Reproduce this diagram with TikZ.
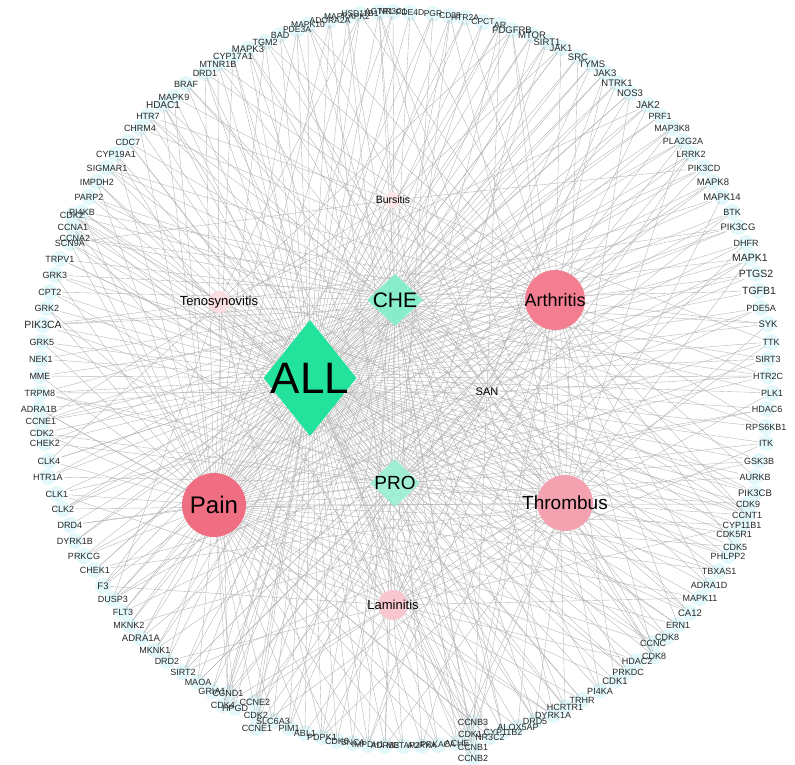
\documentclass[tikz,border=0pt]{standalone}
\usepackage{fontspec}
\setmainfont{Liberation Sans}
\usetikzlibrary{shapes.geometric,backgrounds}
\definecolor{allc}{HTML}{22E29C}
\definecolor{chec}{HTML}{7DEDC6}
\definecolor{proc}{HTML}{98EFD1}
\definecolor{painc}{HTML}{EF6E82}
\definecolor{arthc}{HTML}{F37E91}
\definecolor{thrc}{HTML}{F5A2B0}
\definecolor{lamc}{HTML}{F8C6CF}
\definecolor{tenc}{HTML}{FADCE1}
\definecolor{bursc}{HTML}{FCE6E9}
\definecolor{ringc}{HTML}{E3F8FA}
\definecolor{edgec}{HTML}{B4B4B4}
\tikzset{
  ringlbl/.style={inner sep=1pt, text=black!85},
  hubd/.style={diamond, draw=none, inner sep=0pt},
  dis/.style={circle, draw=none, inner sep=0pt},
  edge/.style={draw=edgec, line width=0.38pt},
  glow/.style={fill=ringc}
}
\begin{document}
\begin{tikzpicture}[x=1pt,y=-1pt]
\useasboundingbox (0,0) rectangle (795,765);
% ring targets
\foreach \lab/\px/\py/\sz [count=\i] in {
MAPK9/174/97/9, BRAF/186/84/9, DRD1/205/73/9, MTNR1B/218/64/9, CYP17A1/233/56/9,
MAPK3/248/49/9.5, TGM2/265/42/9, BAD/280/35/9, PDE3A/297/30/8.5, MAPK10/308/25/8.5,
ADORA2A/330/21/8.5, MAPKAPK2/347/17/8.5, HSD11B1/360/14/8.5, AGTR1/379/12/8.5, NR3C1/393/12/8.5,
PDE4D/410/13/8.5, PGR/433/14/8.5, CD38/450/16/8.5, HTR2A/465/18/8.5, CPCT/483/22/8.5,
AR/500/25/9, PDGFRB/512/30/9.5, MTOR/532/35/9.5, SIRT1/547/42/9.5, JAK1/561/48/9.5,
SRC/578/57/9.5, TYMS/592/64/9.5, JAK3/605/73/9.5, NTRK1/617/83/9.5, NOS3/630/93/9.5,
JAK2/648/105/10, PRF1/660/116/9, MAP3K8/672/128/9, PLA2G2A/683/141/9, LRRK2/691/154/9,
PIK3CD/704/168/9, MAPK8/713/182/9.5, MAPK14/722/197/9.5, BTK/732/212/9, PIK3CG/738/227/9.5,
DHFR/746/243/9, MAPK1/750/258/10.5, PTGS2/756/274/10.5, TGFB1/759/291/10.5, PDE5A/761/308/9,
SYK/768/324/9.5, TTK/771/342/9, SIRT3/768/359/9, HTR2C/768/376/9, PLK1/772/393/9,
HDAC6/767/409/9, RPS6KB1/766/427/9, ITK/766/443/9, GSK3B/759/461/9, AURKB/755/477/9,
PIK3CB/755/493/9.5, CDK9/748/504/9, CCNT1/747/515/9, CYP11B1/742/525/9, CDK5R1/734/534/9,
CDK5/735/547/9, PHLPP2/728/556/9, TBXAS1/719/571/9, ADRA1D/709/585/9, MAPK11/700/598/9,
CA12/690/613/9.5, ERN1/678/625/9, CDK8/667/637/9, CCNC/653/643/9, CDK8/654/656/9,
HDAC2/637/661/9, PRKDC/628/672/9, CDK1/615/681/9.5, PI4KA/600/691/9, TRHR/582/700/9,
HCRTR1/565/707/9, DYRK1A/553/715/9, DRD5/535/721/9, ALOX5AP/518/727/9, CYP11B2/503/732/9,
NR3C2/490/737/9, CDK1/470/734/9, CCNB3/473/722/9, CCNB1/473/747/9, CCNB2/473/758/9,
ACHE/457/743/9, PRKACA/438/745/8.5, AURKA/422/746/8.5, METAP2/403/746/8.5, ADRB3/385/746/8.5,
IMPDH1/368/745/8.5, SNCA/353/743/8.5, CDK6/337/741/9, PDPK1/322/737/9, ABL1/305/733/9,
PIM1/289/728/9, SLC6A3/273/721/9, CCNE1/257/728/9, CDK2/256/715/9, CCNE2/255/702/9,
HPGD/235/708/9, CDK4/223/705/9, CCND1/228/693/9, GRIA1/212/691/9, MAOA/198/682/9,
SIRT2/183/672/9, DRD2/167/661/9, MKNK1/155/650/9, ADRA1A/141/638/9.5, MKNK2/129/625/9,
FLT3/123/612/9, DUSP3/113/599/9, F3/103/586/9.5, CHEK1/95/570/9, PRKCG/84/556/9,
DYRK1B/75/541/9, DRD4/70/525/9, CLK2/63/509/9, CLK1/57/494/9, HTR1A/48/477/9,
CLK4/49/461/9, CHEK2/45/443/9, CDK2/42/433/9, CCNE1/41/421/9, ADRA1B/39/409/9,
TRPM8/40/393/9, MME/40/376/9, NEK1/41/359/9, GRK5/42/342/9, PIK3CA/43/325/10.5,
GRK2/47/308/9, CPT2/50/292/9, GRK3/55/275/9, TRPV1/60/259/9, SCN9A/70/243/9,
CCNA2/75/238/9, CCNA1/73/227/9, CDK2/72/215/9, PI4KB/82/212/9, PARP2/89/197/9,
IMPDH2/97/182/9, SIGMAR1/107/168/9, CYP19A1/116/154/9, CDC7/128/142/9, CHRM4/140/128/9,
HTR7/148/116/9, HDAC1/163/105/10}
{
  \node[ringlbl, font=\fontsize{\sz}{\sz}\selectfont] (t\i) at (\px,\py) {\lab};
  \xdef\ntargets{\i}
}
% hubs
\node[hubd, fill=allc, minimum width=93pt, minimum height=116pt,
  label={[font=\fontsize{44}{44}\selectfont]center:ALL}] (all) at (310,378) {};
\node[hubd, fill=chec, fill opacity=0.9, text opacity=1, minimum width=56pt, minimum height=52pt,
  label={[font=\fontsize{21}{21}\selectfont]center:CHE}] (che) at (395,300) {};
\node[hubd, fill=proc, fill opacity=0.9, text opacity=1, minimum width=50pt, minimum height=48pt,
  label={[font=\fontsize{19}{19}\selectfont]center:PRO}] (pro) at (395,483) {};
\node[inner sep=1pt, font=\fontsize{11}{11}\selectfont] (san) at (487,392) {SAN};
\node[dis, fill=arthc, minimum size=60pt,
  label={[font=\fontsize{18}{18}\selectfont]center:Arthritis}] (arth) at (555,300) {};
\node[dis, fill=painc, minimum size=64pt,
  label={[font=\fontsize{24}{24}\selectfont]center:Pain}] (pain) at (214,505) {};
\node[dis, fill=thrc, minimum size=56pt,
  label={[font=\fontsize{19}{19}\selectfont]center:Thrombus}] (thr) at (565,503) {};
\node[dis, fill=lamc, minimum size=30pt,
  label={[font=\fontsize{13}{13}\selectfont]center:Laminitis}] (lam) at (393,605) {};
\node[dis, fill=tenc, minimum size=22pt,
  label={[font=\fontsize{13}{13}\selectfont]center:Tenosynovitis}] (teno) at (219,302) {};
\node[dis, fill=bursc, minimum size=16pt,
  label={[font=\fontsize{10.5}{10.5}\selectfont]center:Bursitis}] (burs) at (393,200) {};
% edges
\begin{pgfonlayer}{background}
\foreach \i in {1,...,\ntargets} {
  \fill[glow] (t\i.center) circle (8pt);
}
\foreach \i in {1,...,\ntargets} {
  \draw[edge] (t\i) -- (all);
  \pgfmathtruncatemacro\ma{mod(\i,2)}
  \pgfmathtruncatemacro\mb{mod(\i,3)}
  \pgfmathtruncatemacro\mc{mod(\i,4)}
  \pgfmathtruncatemacro\md{mod(\i,6)}
  \pgfmathtruncatemacro\me{mod(\i,7)}
  \pgfmathtruncatemacro\mf{mod(\i,9)}
  \pgfmathtruncatemacro\mg{mod(\i,11)}
  \ifnum\ma=0 \draw[edge] (t\i) -- (che); \fi
  \ifnum\ma=1 \draw[edge] (t\i) -- (pain); \fi
  \ifnum\mb=0 \draw[edge] (t\i) -- (pro); \fi
  \ifnum\mb=1 \draw[edge] (t\i) -- (arth); \fi
  \ifnum\mc=2 \draw[edge] (t\i) -- (thr); \fi
  \ifnum\md=5 \draw[edge] (t\i) -- (lam); \fi
  \ifnum\me=0 \draw[edge] (t\i) -- (san); \fi
  \ifnum\mf=4 \draw[edge] (t\i) -- (teno); \fi
  \ifnum\mg=3 \draw[edge] (t\i) -- (burs); \fi
}
\end{pgfonlayer}
\end{tikzpicture}
\end{document}
